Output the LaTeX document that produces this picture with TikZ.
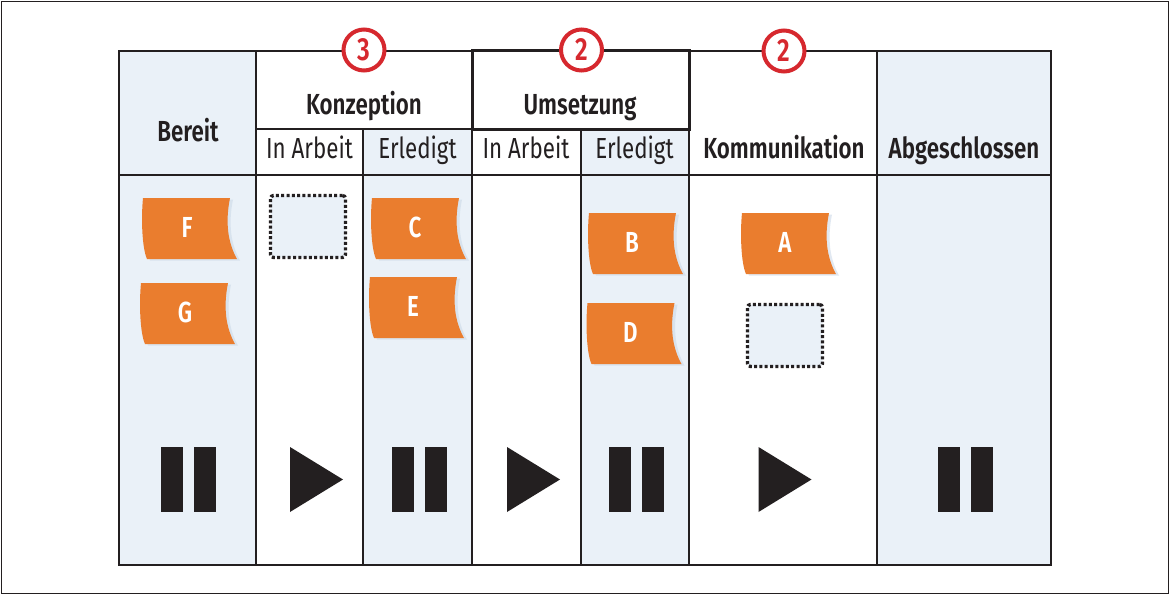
\documentclass[tikz,border=0pt]{standalone}
\usepackage{fontspec}
\setmainfont{Fira Sans}[FakeStretch=0.77]
\IfFontExistsTF{Fira Sans SemiBold}{\newfontfamily\medfont{Fira Sans SemiBold}[FakeStretch=0.77]}{\IfFontExistsTF{Fira Sans Medium}{\newfontfamily\medfont{Fira Sans Medium}[FakeStretch=0.77]}{\newcommand{\medfont}{\bfseries}}}
\definecolor{bluec}{RGB}{234,241,248}
\definecolor{linec}{RGB}{35,31,32}
\definecolor{orangec}{RGB}{234,125,46}
\definecolor{redc}{RGB}{214,40,46}
\definecolor{shadowc}{RGB}{205,218,232}
\tikzset{
  grid/.style={draw=linec, line width=2.2pt},
  hdr/.style={anchor=base, inner sep=0pt, font=\fontsize{29}{32}\selectfont\medfont, text=linec},
  sub/.style={anchor=base, inner sep=0pt, font=\fontsize{29}{32}\selectfont, text=linec},
  letter/.style={anchor=base, inner sep=0pt, font=\fontsize{29}{32}\selectfont\medfont, text=white},
  badge/.style={circle, draw=redc, line width=4pt, fill=white, minimum size=41pt, inner sep=0pt, text=redc, font=\fontsize{32}{34}\selectfont\medfont},
  dotbox/.style={draw=linec, fill=bluec, line width=3.4pt, dash pattern=on 3pt off 2.3pt, rounded corners=3pt, minimum width=75pt, minimum height=62pt, inner sep=0pt},
  pics/kcard/.style={code={
    \begin{scope}[shift={(3,1.5)}]
      \fill[shadowc, opacity=0.6] (1,0) -- (88,0) .. controls (83,25) and (86,45) .. (95,61) -- (5,61) .. controls (0,50) and (-1,20) .. (1,0) -- cycle;
    \end{scope}
    \fill[orangec] (1,0) -- (88,0) .. controls (83,25) and (86,45) .. (95,61) -- (5,61) .. controls (0,50) and (-1,20) .. (1,0) -- cycle;
  }},
  pics/pauseicon/.style={code={
    \fill[linec] (-27.5,-32.5) rectangle (-5.5,32.5);
    \fill[linec] (5.5,-32.5) rectangle (27.5,32.5);
  }},
  pics/playicon/.style={code={
    \fill[linec] (-26.5,-32.5) -- (26.5,0) -- (-26.5,32.5) -- cycle;
  }}
}
\begin{document}
\begin{tikzpicture}[x=1pt,y=-1pt]
\useasboundingbox (0,0) rectangle (1171,595);
\fill[white] (0,0) rectangle (1171,595);
\draw[linec, line width=1.4pt] (1.5,1.5) rectangle (1168.5,593.5);
% column fills
\fill[bluec] (119,51) rectangle (256,565);
\fill[bluec] (363,129) rectangle (472,565);
\fill[bluec] (581,129) rectangle (689,565);
\fill[bluec] (877,51) rectangle (1051,565);
% grid lines
\draw[grid] (119,51) rectangle (1051,565);
\draw[grid] (256,51) -- (256,565);
\draw[grid] (472,51) -- (472,565);
\draw[grid] (689,51) -- (689,565);
\draw[grid] (877,51) -- (877,565);
\draw[grid] (363,129) -- (363,565);
\draw[grid] (581,129) -- (581,565);
\draw[grid] (256,129) -- (689,129);
\draw[grid] (119,175) -- (1051,175);
\draw[draw=linec, line width=3pt] (472,50) rectangle (689,129);
% header texts
\node[hdr] (bereit) at (188,141) {Bereit};
\node[hdr] (konz) at (364,114) {Konzeption};
\node[sub] (k-arb) at (309.5,158) {In Arbeit};
\node[sub] (k-erl) at (417.5,158) {Erledigt};
\node[hdr] (ums) at (580,114) {Umsetzung};
\node[sub] (u-arb) at (526,158) {In Arbeit};
\node[sub] (u-erl) at (634.5,158) {Erledigt};
\node[hdr] (komm) at (784,158) {Kommunikation};
\node[hdr] (abg) at (964,158) {Abgeschlossen};
% WIP badges
\node[badge] (b3) at (364,50) {3};
\node[badge] (b2a) at (581.5,50) {2};
\node[badge] (b2b) at (784,51) {2};
% cards
\pic at (142,198) {kcard};
\node[letter] (F) at (187,237) {F};
\pic at (140,283) {kcard};
\node[letter] (G) at (185,322) {G};
\pic at (371,198) {kcard};
\node[letter] (C) at (415,237) {C};
\pic at (369,277) {kcard};
\node[letter] (E) at (413,316) {E};
\pic at (588,213) {kcard};
\node[letter] (B) at (632,252) {B};
\pic at (586.5,303) {kcard};
\node[letter] (D) at (630.5,342) {D};
\pic at (741,213) {kcard};
\node[letter] (A) at (785,252) {A};
% empty slots
\node[dotbox] (slot1) at (308,226.5) {};
\node[dotbox] (slot2) at (785,335.5) {};
% icons
\pic at (188.5,479.5) {pauseicon};
\pic at (316.5,479.5) {playicon};
\pic at (419.5,479.5) {pauseicon};
\pic at (533.5,479.5) {playicon};
\pic at (636.5,479.5) {pauseicon};
\pic at (785,479.5) {playicon};
\pic at (965.5,479.5) {pauseicon};
\end{tikzpicture}
\end{document}
